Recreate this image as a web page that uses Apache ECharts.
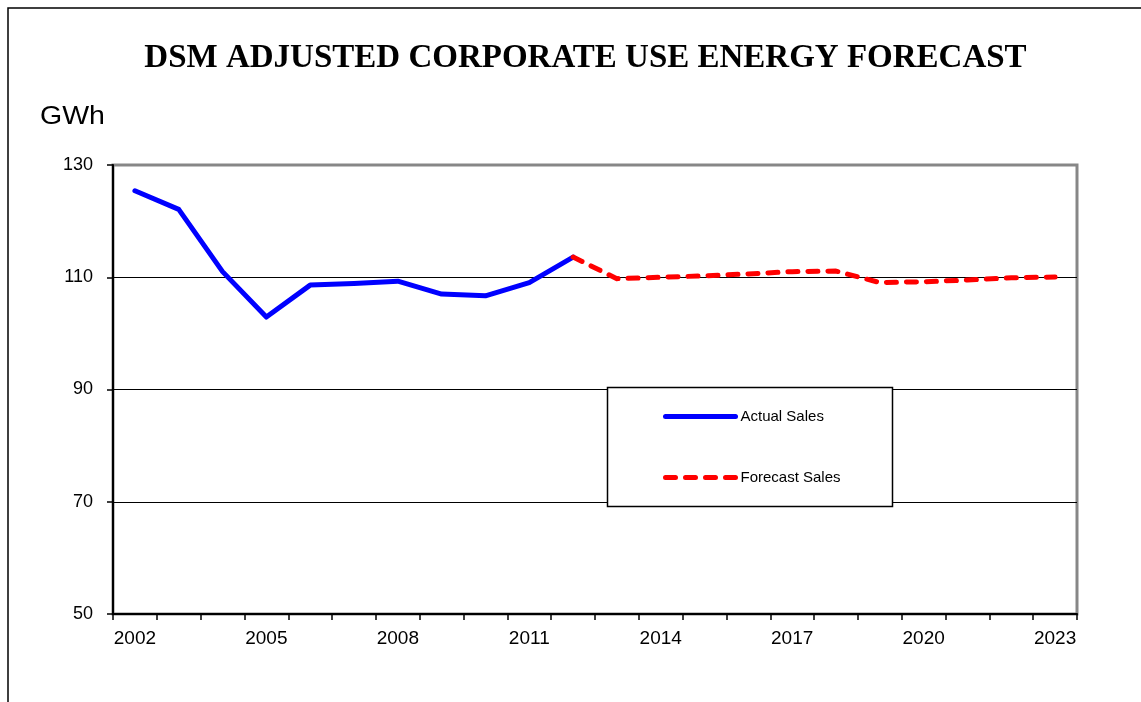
<!DOCTYPE html>
<html>
<head>
<meta charset="utf-8">
<title>DSM Adjusted Corporate Use Energy Forecast</title>
<script src="https://cdn.jsdelivr.net/npm/echarts@6/dist/echarts.min.js"></script>
<style>
  html, body { margin: 0; padding: 0; background: #fff; }
  #chart { width: 1141px; height: 702px; }
</style>
</head>
<body>
<div id="chart"></div>
<script>
// Years on the category axis
const years = ['2002', '2003', '2004', '2005', '2006', '2007', '2008', '2009', '2010', '2011',
               '2012', '2013', '2014', '2015', '2016', '2017', '2018', '2019', '2020', '2021',
               '2022', '2023'];

// Recorded sales, GWh (2002-2012)
const actualSales = [125.4, 122.1, 111.0, 102.9, 108.6, 108.9, 109.3, 107.0, 106.7, 109.05, 113.6];

// Forecast sales, GWh (2012-2023)
const forecastSales = [113.6, 109.75, 110.0, 110.25, 110.6, 111.0, 111.1, 109.05, 109.2, 109.5, 109.9, 110.05];

// Y axis range and step
const yMin = 50, yMax = 130, yStep = 20;

// Pad each series with nulls so it sits on the right years
const actualData = years.map((y, i) => (i < actualSales.length ? actualSales[i] : null));
const forecastStart = years.indexOf('2012');
const forecastData = years.map((y, i) => (i >= forecastStart ? forecastSales[i - forecastStart] : null));

const chart = echarts.init(document.getElementById('chart'), null, { renderer: 'canvas' });

const sans = 'Liberation Sans, Arial, sans-serif';

chart.setOption({
  backgroundColor: '#ffffff',
  animation: false,
  grid: {
    left: 113, right: 64, top: 165, bottom: 88,
    show: true,
    borderColor: '#878787',
    borderWidth: 3,
    backgroundColor: 'transparent'
  },
  xAxis: {
    type: 'category',
    data: years,
    boundaryGap: true,
    axisLine: { lineStyle: { color: '#000', width: 2 } },
    axisTick: { show: true, interval: 0, inside: false, length: 6, lineStyle: { color: '#000', width: 1.5 } },
    axisLabel: { interval: 2, margin: 15, color: '#000', fontSize: 19, fontFamily: sans },
    splitLine: { show: false }
  },
  yAxis: {
    type: 'value',
    min: yMin, max: yMax, interval: yStep,
    axisLine: { show: true, lineStyle: { color: '#000', width: 2 } },
    axisTick: { show: true, inside: false, length: 6, lineStyle: { color: '#000', width: 1.5 } },
    axisLabel: { margin: 20, color: '#000', fontSize: 18, fontFamily: sans },
    splitLine: { show: true, showMinLine: false, showMaxLine: false, lineStyle: { color: '#000', width: 1 } }
  },
  legend: {
    orient: 'vertical',
    left: 663,
    top: 409,
    itemWidth: 70,
    itemHeight: 15,
    itemGap: 46,
    padding: 0,
    z: 5,
    itemStyle: { opacity: 0 },
    lineStyle: { width: 5, cap: 'round' },
    textStyle: { color: '#000', fontSize: 15, fontFamily: sans },
    data: ['Actual Sales', 'Forecast Sales']
  },
  graphic: [
    // Outer frame (left and top edges)
    {
      type: 'polyline', z: 10, silent: true,
      shape: { points: [[8, 702], [8, 8], [1141, 8]] },
      style: { stroke: '#000', lineWidth: 1.5, fill: null }
    },
    // Title
    {
      type: 'text', z: 10, x: 585.5, y: 58,
      style: {
        text: 'DSM ADJUSTED CORPORATE USE ENERGY FORECAST',
        fill: '#000', font: 'bold 33px "Liberation Serif", "Times New Roman", serif',
        align: 'center', verticalAlign: 'middle'
      }
    },
    // Unit label
    {
      type: 'text', z: 10, x: 40, y: 117, scaleX: 1.14,
      style: {
        text: 'GWh', fill: '#000', font: '25px "Liberation Sans", Arial, sans-serif',
        align: 'left', verticalAlign: 'middle'
      }
    },
    // Legend box
    {
      type: 'rect', z: 3, silent: true,
      shape: { x: 607.5, y: 387.5, width: 285, height: 119 },
      style: { fill: '#fff', stroke: '#000', lineWidth: 1.5 }
    }
  ],
  series: [
    {
      name: 'Actual Sales',
      type: 'line',
      data: actualData,
      symbol: 'none',
      connectNulls: false,
      z: 4,
      lineStyle: { color: '#0000ff', width: 5, join: 'round', cap: 'round' },
      itemStyle: { color: '#0000ff' }
    },
    {
      name: 'Forecast Sales',
      type: 'line',
      data: forecastData,
      symbol: 'none',
      connectNulls: false,
      z: 4,
      lineStyle: { color: '#ff0000', width: 5, type: [10, 10], join: 'round', cap: 'round' },
      itemStyle: { color: '#ff0000' }
    }
  ]
});
</script>
</body>
</html>
